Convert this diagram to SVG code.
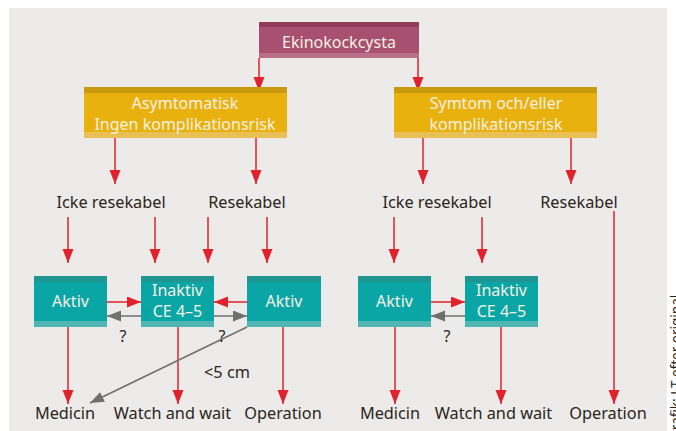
<svg xmlns="http://www.w3.org/2000/svg" width="676" height="431" viewBox="0 0 676 431">
<defs>
<style>
.lbl{font-family:"Noto Sans","Open Sans",sans-serif;font-size:16.3px;fill:#2b2520;text-anchor:middle}
.btxt{font-family:"Noto Sans","Open Sans",sans-serif;font-size:16px;fill:#f6f0e4;text-anchor:middle}
.q{font-family:"Noto Sans","Open Sans",sans-serif;font-size:16px;fill:#2b2520;text-anchor:middle}
.red{stroke:#e0222c;stroke-width:1.5;fill:none;marker-end:url(#ar)}
.gray{stroke:#6f6f6f;stroke-width:1.5;fill:none;marker-end:url(#ag)}
.teal{fill:#0aa6a6}.tealT{fill:#1f9591}.tealB{fill:#50b6b3}
.yel{fill:#e9b10e}.yelT{fill:#c9990f}.yelB{fill:#e9c055}
</style>
<marker id="ar" markerUnits="userSpaceOnUse" markerWidth="15" markerHeight="12" refX="14" refY="5.5" orient="auto"><path d="M0,0 L14,5.5 L0,11 z" fill="#e0222c"/></marker>
<marker id="ag" markerUnits="userSpaceOnUse" markerWidth="15" markerHeight="12" refX="14" refY="5.5" orient="auto"><path d="M0,0 L14,5.5 L0,11 z" fill="#6f6f6f"/></marker>
</defs>
<rect x="0" y="0" width="676" height="431" fill="#ffffff"/>
<rect x="9" y="8" width="658" height="423" fill="#ecebe9"/>

<g id="connectors">
<line class="red" x1="259" y1="58" x2="259" y2="91"/>
<line class="red" x1="418" y1="58" x2="418" y2="91"/>
<line class="red" x1="115" y1="138" x2="115" y2="184"/>
<line class="red" x1="256" y1="138" x2="256" y2="184"/>
<line class="red" x1="423" y1="138" x2="423" y2="184"/>
<line class="red" x1="571" y1="138" x2="571" y2="184"/>
<line class="red" x1="68" y1="217" x2="68" y2="263"/>
<line class="red" x1="155" y1="217" x2="155" y2="263"/>
<line class="red" x1="208" y1="217" x2="208" y2="263"/>
<line class="red" x1="267" y1="217" x2="267" y2="263"/>
<line class="red" x1="394" y1="217" x2="394" y2="263"/>
<line class="red" x1="482" y1="217" x2="482" y2="263"/>
<line class="red" x1="614" y1="211" x2="614" y2="404"/>
<line class="red" x1="107" y1="302" x2="141" y2="302"/>
<line class="red" x1="247" y1="302" x2="214" y2="302"/>
<line class="red" x1="431" y1="302" x2="465" y2="302"/>
<line class="gray" x1="141" y1="316" x2="107" y2="316"/>
<line class="gray" x1="214" y1="316" x2="247" y2="316"/>
<line class="gray" x1="465" y1="316" x2="431" y2="316"/>
<line class="red" x1="68" y1="327" x2="68" y2="404"/>
<line class="red" x1="178" y1="327" x2="178" y2="404"/>
<line class="red" x1="283" y1="327" x2="283" y2="404"/>
<line class="red" x1="395" y1="327" x2="395" y2="404"/>
<line class="red" x1="501" y1="327" x2="501" y2="404"/>
<line class="gray" x1="247" y1="327" x2="90" y2="403"/>
</g>

<g id="ekinokockcysta">
<rect x="259" y="22" width="160" height="36" fill="#a8506f"/>
<rect x="259" y="22" width="160" height="5" fill="#913c5b"/>
<rect x="259" y="53" width="160" height="5" fill="#b96f86"/>
<text class="btxt" x="339" y="48" font-size="16.5">Ekinokockcysta</text>
</g>

<g id="asymtomatisk">
<rect class="yel" x="84" y="87" width="203" height="51"/>
<rect class="yelT" x="84" y="87" width="203" height="6"/>
<rect class="yelB" x="84" y="132" width="203" height="6"/>
<text class="btxt" x="185" y="109">Asymtomatisk</text>
<text class="btxt" x="185" y="130">Ingen komplikationsrisk</text>
</g>

<g id="symtom">
<rect class="yel" x="394" y="87" width="203" height="51"/>
<rect class="yelT" x="394" y="87" width="203" height="6"/>
<rect class="yelB" x="394" y="132" width="203" height="6"/>
<text class="btxt" x="496" y="109">Symtom och/eller</text>
<text class="btxt" x="496" y="130">komplikationsrisk</text>
</g>

<g id="icke1"><text class="lbl" x="111" y="208">Icke resekabel</text></g>
<g id="rese1"><text class="lbl" x="247" y="208">Resekabel</text></g>
<g id="icke2"><text class="lbl" x="437" y="208">Icke resekabel</text></g>
<g id="rese2"><text class="lbl" x="579" y="208">Resekabel</text></g>

<g id="aktiv1">
<rect class="teal" x="34" y="276" width="73" height="51"/>
<rect class="tealT" x="34" y="276" width="73" height="6"/>
<rect class="tealB" x="34" y="321" width="73" height="6"/>
<text class="btxt" x="70.5" y="307">Aktiv</text>
</g>
<g id="inaktiv1">
<rect class="teal" x="141" y="276" width="73" height="51"/>
<rect class="tealT" x="141" y="276" width="73" height="6"/>
<rect class="tealB" x="141" y="321" width="73" height="6"/>
<text class="btxt" x="177.5" y="296">Inaktiv</text>
<text class="btxt" x="177.5" y="317">CE 4–5</text>
</g>
<g id="aktiv2">
<rect class="teal" x="247" y="276" width="74" height="51"/>
<rect class="tealT" x="247" y="276" width="74" height="6"/>
<rect class="tealB" x="247" y="321" width="74" height="6"/>
<text class="btxt" x="284" y="307">Aktiv</text>
</g>
<g id="aktiv3">
<rect class="teal" x="358" y="276" width="73" height="51"/>
<rect class="tealT" x="358" y="276" width="73" height="6"/>
<rect class="tealB" x="358" y="321" width="73" height="6"/>
<text class="btxt" x="394.5" y="307">Aktiv</text>
</g>
<g id="inaktiv2">
<rect class="teal" x="465" y="276" width="73" height="51"/>
<rect class="tealT" x="465" y="276" width="73" height="6"/>
<rect class="tealB" x="465" y="321" width="73" height="6"/>
<text class="btxt" x="501.5" y="296">Inaktiv</text>
<text class="btxt" x="501.5" y="317">CE 4–5</text>
</g>

<g id="q-labels">
<text class="q" x="123" y="342">?</text>
<text class="q" x="222" y="342">?</text>
<text class="q" x="447" y="342">?</text>
<text class="lbl" x="227" y="378">&lt;5 cm</text>
</g>

<g id="medicin1"><text class="lbl" x="65" y="419">Medicin</text></g>
<g id="watch1"><text class="lbl" x="172.5" y="419">Watch and wait</text></g>
<g id="operation1"><text class="lbl" x="283" y="419">Operation</text></g>
<g id="medicin2"><text class="lbl" x="390" y="419">Medicin</text></g>
<g id="watch2"><text class="lbl" x="493.5" y="419">Watch and wait</text></g>
<g id="operation2"><text class="lbl" x="608" y="419">Operation</text></g>

<text transform="translate(681,440) rotate(-90)" font-family="Noto Sans, sans-serif" font-size="13.5" fill="#2b2520">Grafik: LT efter original</text>
</svg>
